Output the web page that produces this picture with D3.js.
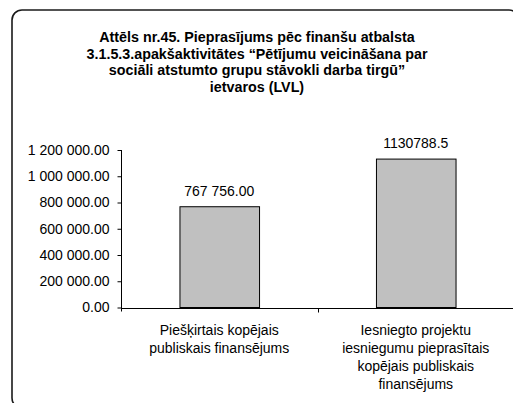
<!DOCTYPE html>
<html>
<head>
<meta charset="utf-8">
<script src="https://cdn.jsdelivr.net/npm/d3@7/dist/d3.min.js"></script>
<style>
  html, body { margin: 0; padding: 0; background: #fff; }
  svg { display: block; font-family: "Liberation Sans", Arial, sans-serif; }
</style>
</head>
<body>
<script>
// Chart data
const titleLines = [
  "Attēls nr.45. Pieprasījums pēc finanšu atbalsta",
  "3.1.5.3.apakšaktivitātes “Pētījumu veicināšana par",
  "sociāli atstumto grupu stāvokli darba tirgū”",
  "ietvaros (LVL)"
];
const categories = [
  ["Piešķirtais kopējais", "publiskais finansējums"],
  ["Iesniegto projektu", "iesniegumu pieprasītais", "kopējais publiskais", "finansējums"]
];
const values = [767756.00, 1130788.5];
const valueLabels = ["767 756.00", "1130788.5"];
const yTicks = [0, 200000, 400000, 600000, 800000, 1000000, 1200000];

const W = 513, H = 403;
const svg = d3.select("body").append("svg").attr("width", W).attr("height", H);

// Rounded outer frame (runs past the right and bottom edges)
svg.append("rect")
  .attr("x", 12).attr("y", 10)
  .attr("width", 507).attr("height", 398)
  .attr("rx", 10).attr("ry", 10)
  .attr("fill", "none").attr("stroke", "#1a1a1a").attr("stroke-width", 1.6);

// Title
const title = svg.append("text")
  .attr("text-anchor", "middle")
  .attr("font-size", 14.3).attr("font-weight", "bold").attr("fill", "#000");
titleLines.forEach((t, i) => {
  title.append("tspan").attr("x", 257).attr("y", 42 + i * 16.7).text(t);
});

// Scales
const x0 = 121, x1 = 514;
const x = d3.scaleBand().domain(d3.range(values.length)).range([x0, x1])
  .paddingInner(0.595).paddingOuter(0.2975);
const y = d3.scaleLinear().domain([0, 1200000]).range([307.5, 150]);

const fmt = v => d3.format(",.2f")(v).replace(/,/g, " ");

// Y axis
const yAxis = svg.append("g").attr("transform", `translate(${x0 + 0.5},0)`)
  .call(d3.axisLeft(y).tickValues(yTicks).tickFormat(fmt).tickSize(4).tickPadding(8));
yAxis.select(".domain").attr("d", `M0,${y(1200000)}V${y(0) + 4}`).attr("stroke", "#000");
yAxis.selectAll(".tick line").attr("stroke", "#000");
yAxis.selectAll(".tick text")
  .attr("font-size", 14).attr("fill", "#000")
  .attr("font-family", "Liberation Sans, Arial, sans-serif");

// Bars
svg.selectAll("rect.bar").data(values).enter().append("rect")
  .attr("class", "bar")
  .attr("x", (d, i) => x(i) + 0.5)
  .attr("y", d => y(d))
  .attr("width", x.bandwidth())
  .attr("height", d => y(0) - y(d))
  .attr("fill", "#c0c0c0").attr("stroke", "#000").attr("stroke-width", 1);

// X axis line and category boundary ticks
const step = x.step();
const baseY = Math.round(y(0)) + 0.5;
svg.append("line").attr("x1", x0).attr("x2", W + 5)
  .attr("y1", baseY).attr("y2", baseY).attr("stroke", "#000");
d3.range(1, values.length + 1).forEach(i => {
  const bx = Math.round(x0 + i * step) + 0.5;
  svg.append("line").attr("x1", bx).attr("x2", bx)
    .attr("y1", baseY).attr("y2", baseY + 4).attr("stroke", "#000");
});

// Value labels
svg.selectAll("text.val").data(values).enter().append("text")
  .attr("class", "val")
  .attr("x", (d, i) => x(i) + x.bandwidth() / 2)
  .attr("y", d => y(d) - 11)
  .attr("text-anchor", "middle").attr("font-size", 14).attr("fill", "#000")
  .text((d, i) => valueLabels[i]);

// Category labels
categories.forEach((lines, i) => {
  const t = svg.append("text").attr("text-anchor", "middle")
    .attr("font-size", 14).attr("fill", "#000");
  lines.forEach((l, j) => {
    t.append("tspan").attr("x", x(i) + x.bandwidth() / 2).attr("y", 334.5 + j * 18.3).text(l);
  });
});
</script>
</body>
</html>
